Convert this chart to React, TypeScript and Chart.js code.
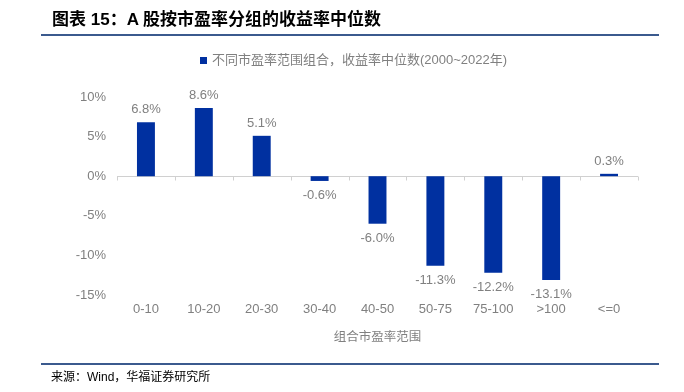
import React, { useEffect, useRef } from "react";
import { Chart, registerables } from "chart.js";

Chart.register(...registerables);

const categories = ["0-10", "10-20", "20-30", "30-40", "40-50", "50-75", "75-100", ">100", "<=0"];
const medianReturns = [6.8, 8.6, 5.1, -0.6, -6.0, -11.3, -12.2, -13.1, 0.3];
const seriesName = "不同市盈率范围组合，收益率中位数(2000~2022年)";
const titleText = "图表 15：A 股按市盈率分组的收益率中位数";
const sourceText = "来源：Wind，华福证券研究所";
const xAxisTitle = "组合市盈率范围";

const BAR = "#0030a0";
const GRAY = "#808080";
const NUM_FONT = "'Liberation Sans', Arial, sans-serif";
const CJK_FONT = "'Noto Sans CJK SC', sans-serif";

const zeroLinePlugin = {
  id: "zeroLine",
  beforeDatasetsDraw(chart: any) {
    const { ctx, chartArea, scales } = chart;
    const y0 = Math.round(scales.y.getPixelForValue(0)) + 0.5;
    ctx.save();
    ctx.strokeStyle = "#d0d0d0";
    ctx.lineWidth = 1;
    ctx.beginPath();
    ctx.moveTo(chartArea.left, y0);
    ctx.lineTo(chartArea.right, y0);
    const n = categories.length;
    const w = (chartArea.right - chartArea.left) / n;
    for (let k = 0; k <= n; k++) {
      const x = Math.round(chartArea.left + k * w) + 0.5;
      ctx.moveTo(x, y0);
      ctx.lineTo(x, y0 + 4);
    }
    ctx.stroke();
    ctx.restore();
  },
};

const labelPlugin = {
  id: "valueLabels",
  afterDatasetsDraw(chart: any) {
    const { ctx } = chart;
    const meta = chart.getDatasetMeta(0);
    ctx.save();
    ctx.font = `13px ${NUM_FONT}`;
    ctx.fillStyle = GRAY;
    ctx.textAlign = "center";
    meta.data.forEach((bar: any, i: number) => {
      const v = medianReturns[i];
      const txt = v.toFixed(1) + "%";
      if (v >= 0) {
        ctx.textBaseline = "bottom";
        ctx.fillText(txt, bar.x, bar.y - 6);
      } else {
        ctx.textBaseline = "top";
        ctx.fillText(txt, bar.x, bar.y + 8);
      }
    });
    ctx.restore();
  },
};

export default function App() {
  const ref = useRef<HTMLCanvasElement | null>(null);
  useEffect(() => {
    if (!ref.current) return;
    const chart = new Chart(ref.current, {
      type: "bar",
      data: {
        labels: categories,
        datasets: [
          {
            label: seriesName,
            data: medianReturns,
            backgroundColor: BAR,
            categoryPercentage: 1,
            barPercentage: 0.31,
          },
        ],
      },
      options: {
        animation: false,
        responsive: false,
        maintainAspectRatio: false,
        layout: { padding: { top: 97, left: 0, right: 46, bottom: 42 } },
        plugins: {
          legend: { display: false },
          tooltip: { enabled: false },
          title: { display: false },
        },
        scales: {
          x: {
            grid: { display: false, drawTicks: false },
            border: { display: false },
            ticks: { color: GRAY, font: { family: NUM_FONT, size: 13 }, padding: 7 },
            title: {
              display: true,
              text: xAxisTitle,
              color: GRAY,
              font: { family: CJK_FONT, size: 12.5 },
              padding: { top: 4, bottom: 6 },
            },
            afterFit(scale: any) {
              scale.height = 55;
            },
          },
          y: {
            min: -15,
            max: 10,
            grid: { display: false, drawTicks: false },
            border: { display: false },
            ticks: {
              stepSize: 5,
              color: GRAY,
              font: { family: NUM_FONT, size: 13 },
              padding: 11,
              callback: (v: any) => v + "%",
            },
            afterFit(scale: any) {
              scale.width = 117;
            },
          },
        },
      },
      plugins: [zeroLinePlugin, labelPlugin],
    });
    return () => chart.destroy();
  }, []);

  return (
    <div style={{ position: "fixed", left: 0, top: 0, width: 684, height: 392, background: "#fff", overflow: "hidden" }}>
      <canvas ref={ref} width={684} height={392} style={{ position: "absolute", left: 0, top: 0, width: 684, height: 392 }} />
      <div
        style={{
          position: "absolute",
          left: 52,
          top: 9,
          fontFamily: "'Liberation Sans', 'Noto Sans CJK SC', sans-serif",
          fontWeight: "bold",
          fontSize: 17,
          color: "#000",
          whiteSpace: "nowrap",
          lineHeight: "22px",
        }}
      >
        {titleText}
      </div>
      <div style={{ position: "absolute", left: 41, top: 34, width: 618, height: 1.5, background: "#3b5a8e" }} />
      <div
        style={{
          position: "absolute",
          left: 200,
          top: 51,
          display: "flex",
          alignItems: "center",
          whiteSpace: "nowrap",
          color: GRAY,
          fontSize: 13,
          fontFamily: "'Liberation Sans', 'Noto Sans CJK SC', sans-serif",
          lineHeight: "18px",
        }}
      >
        <span style={{ display: "inline-block", width: 7, height: 7, background: BAR, marginRight: 5 }} />
        <span>{seriesName}</span>
      </div>
      <div style={{ position: "absolute", left: 41, top: 363, width: 618, height: 1.5, background: "#3b5a8e" }} />
      <div
        style={{
          position: "absolute",
          left: 51,
          top: 368,
          fontFamily: "'Liberation Sans', 'Noto Sans CJK SC', sans-serif",
          fontSize: 12,
          color: "#000",
          whiteSpace: "nowrap",
          lineHeight: "18px",
        }}
      >
        {sourceText}
      </div>
    </div>
  );
}
